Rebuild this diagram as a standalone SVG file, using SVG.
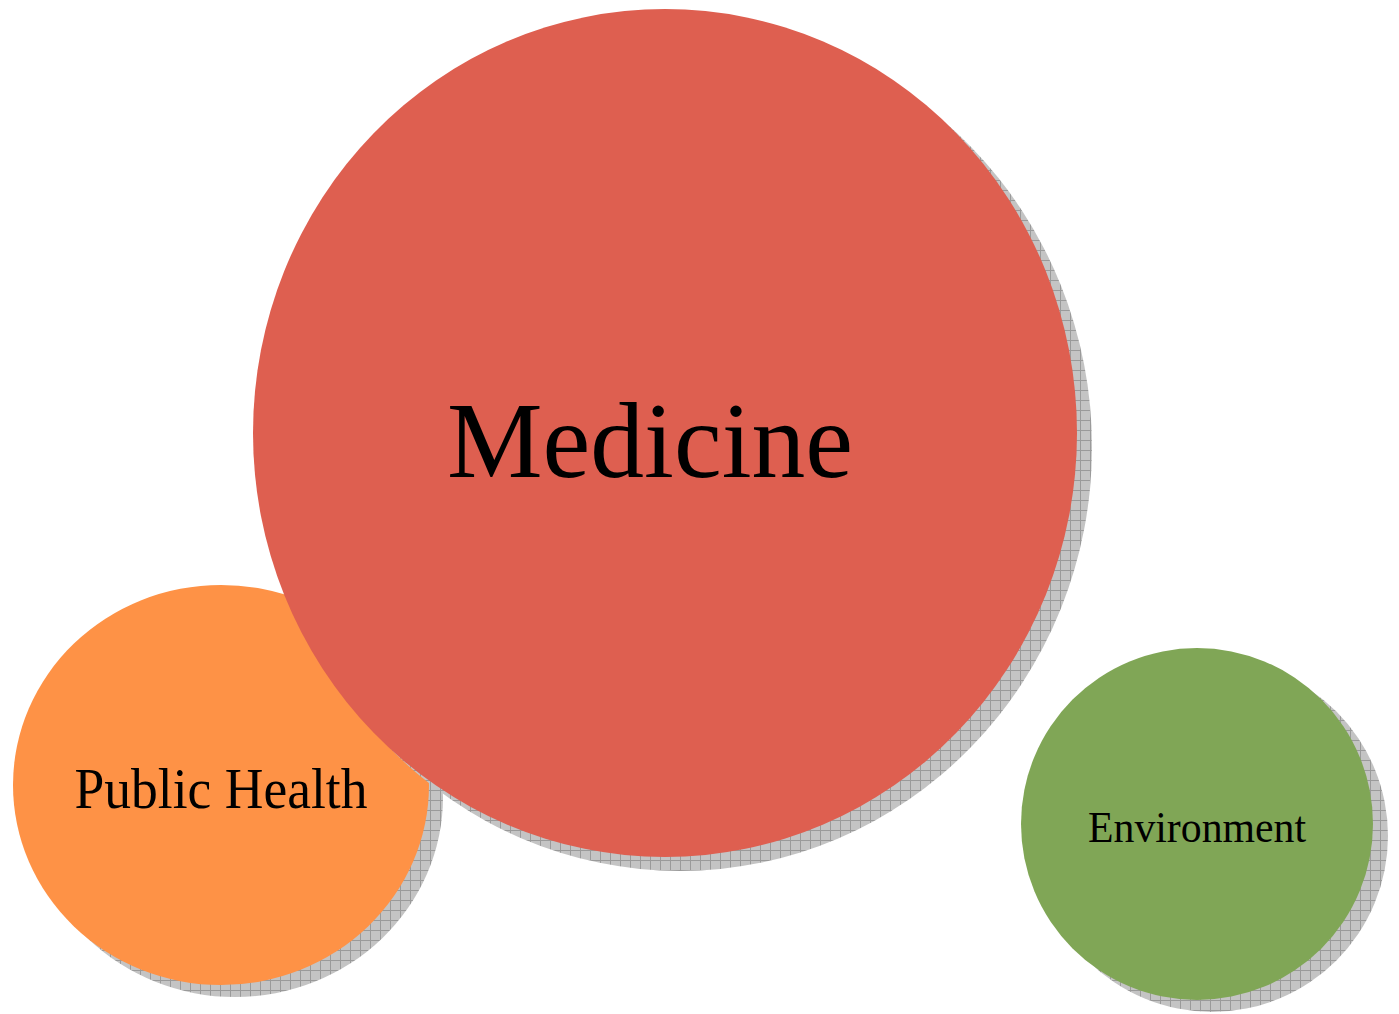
<svg xmlns="http://www.w3.org/2000/svg" width="1399" height="1014" viewBox="0 0 1399 1014">
<style>
.lbl{font-family:"Liberation Serif","DejaVu Serif",serif;fill:#000;text-anchor:middle}
.shadow{fill:url(#hatch)}
</style>
<defs>
<pattern id="hatch" width="10" height="10" patternUnits="userSpaceOnUse">
<rect width="10" height="10" fill="#c4c4c4"/>
<path d="M0 0.5H10M0.5 0V10" stroke="#9a9a9a" stroke-width="1"/>
</pattern>
</defs>
<g id="public-health">
<ellipse class="shadow" cx="235" cy="797" rx="208" ry="200"/>
<ellipse cx="221" cy="785" rx="208" ry="200" fill="#fe9246"/>
<text class="lbl" x="221" y="808" font-size="58" textLength="293" lengthAdjust="spacingAndGlyphs">Public Health</text>
</g>
<g id="environment">
<ellipse class="shadow" cx="1212" cy="836" rx="176" ry="176"/>
<ellipse cx="1197" cy="824" rx="176" ry="176" fill="#80a656"/>
<text class="lbl" x="1197" y="842" font-size="44" textLength="218" lengthAdjust="spacingAndGlyphs">Environment</text>
</g>
<g id="medicine">
<ellipse class="shadow" cx="680" cy="447" rx="412" ry="424"/>
<ellipse cx="665" cy="433" rx="412" ry="424" fill="#de5f50"/>
<text class="lbl" x="650" y="477" font-size="107" textLength="406" lengthAdjust="spacingAndGlyphs">Medicine</text>
</g>
<g id="connectors"/>
</svg>
